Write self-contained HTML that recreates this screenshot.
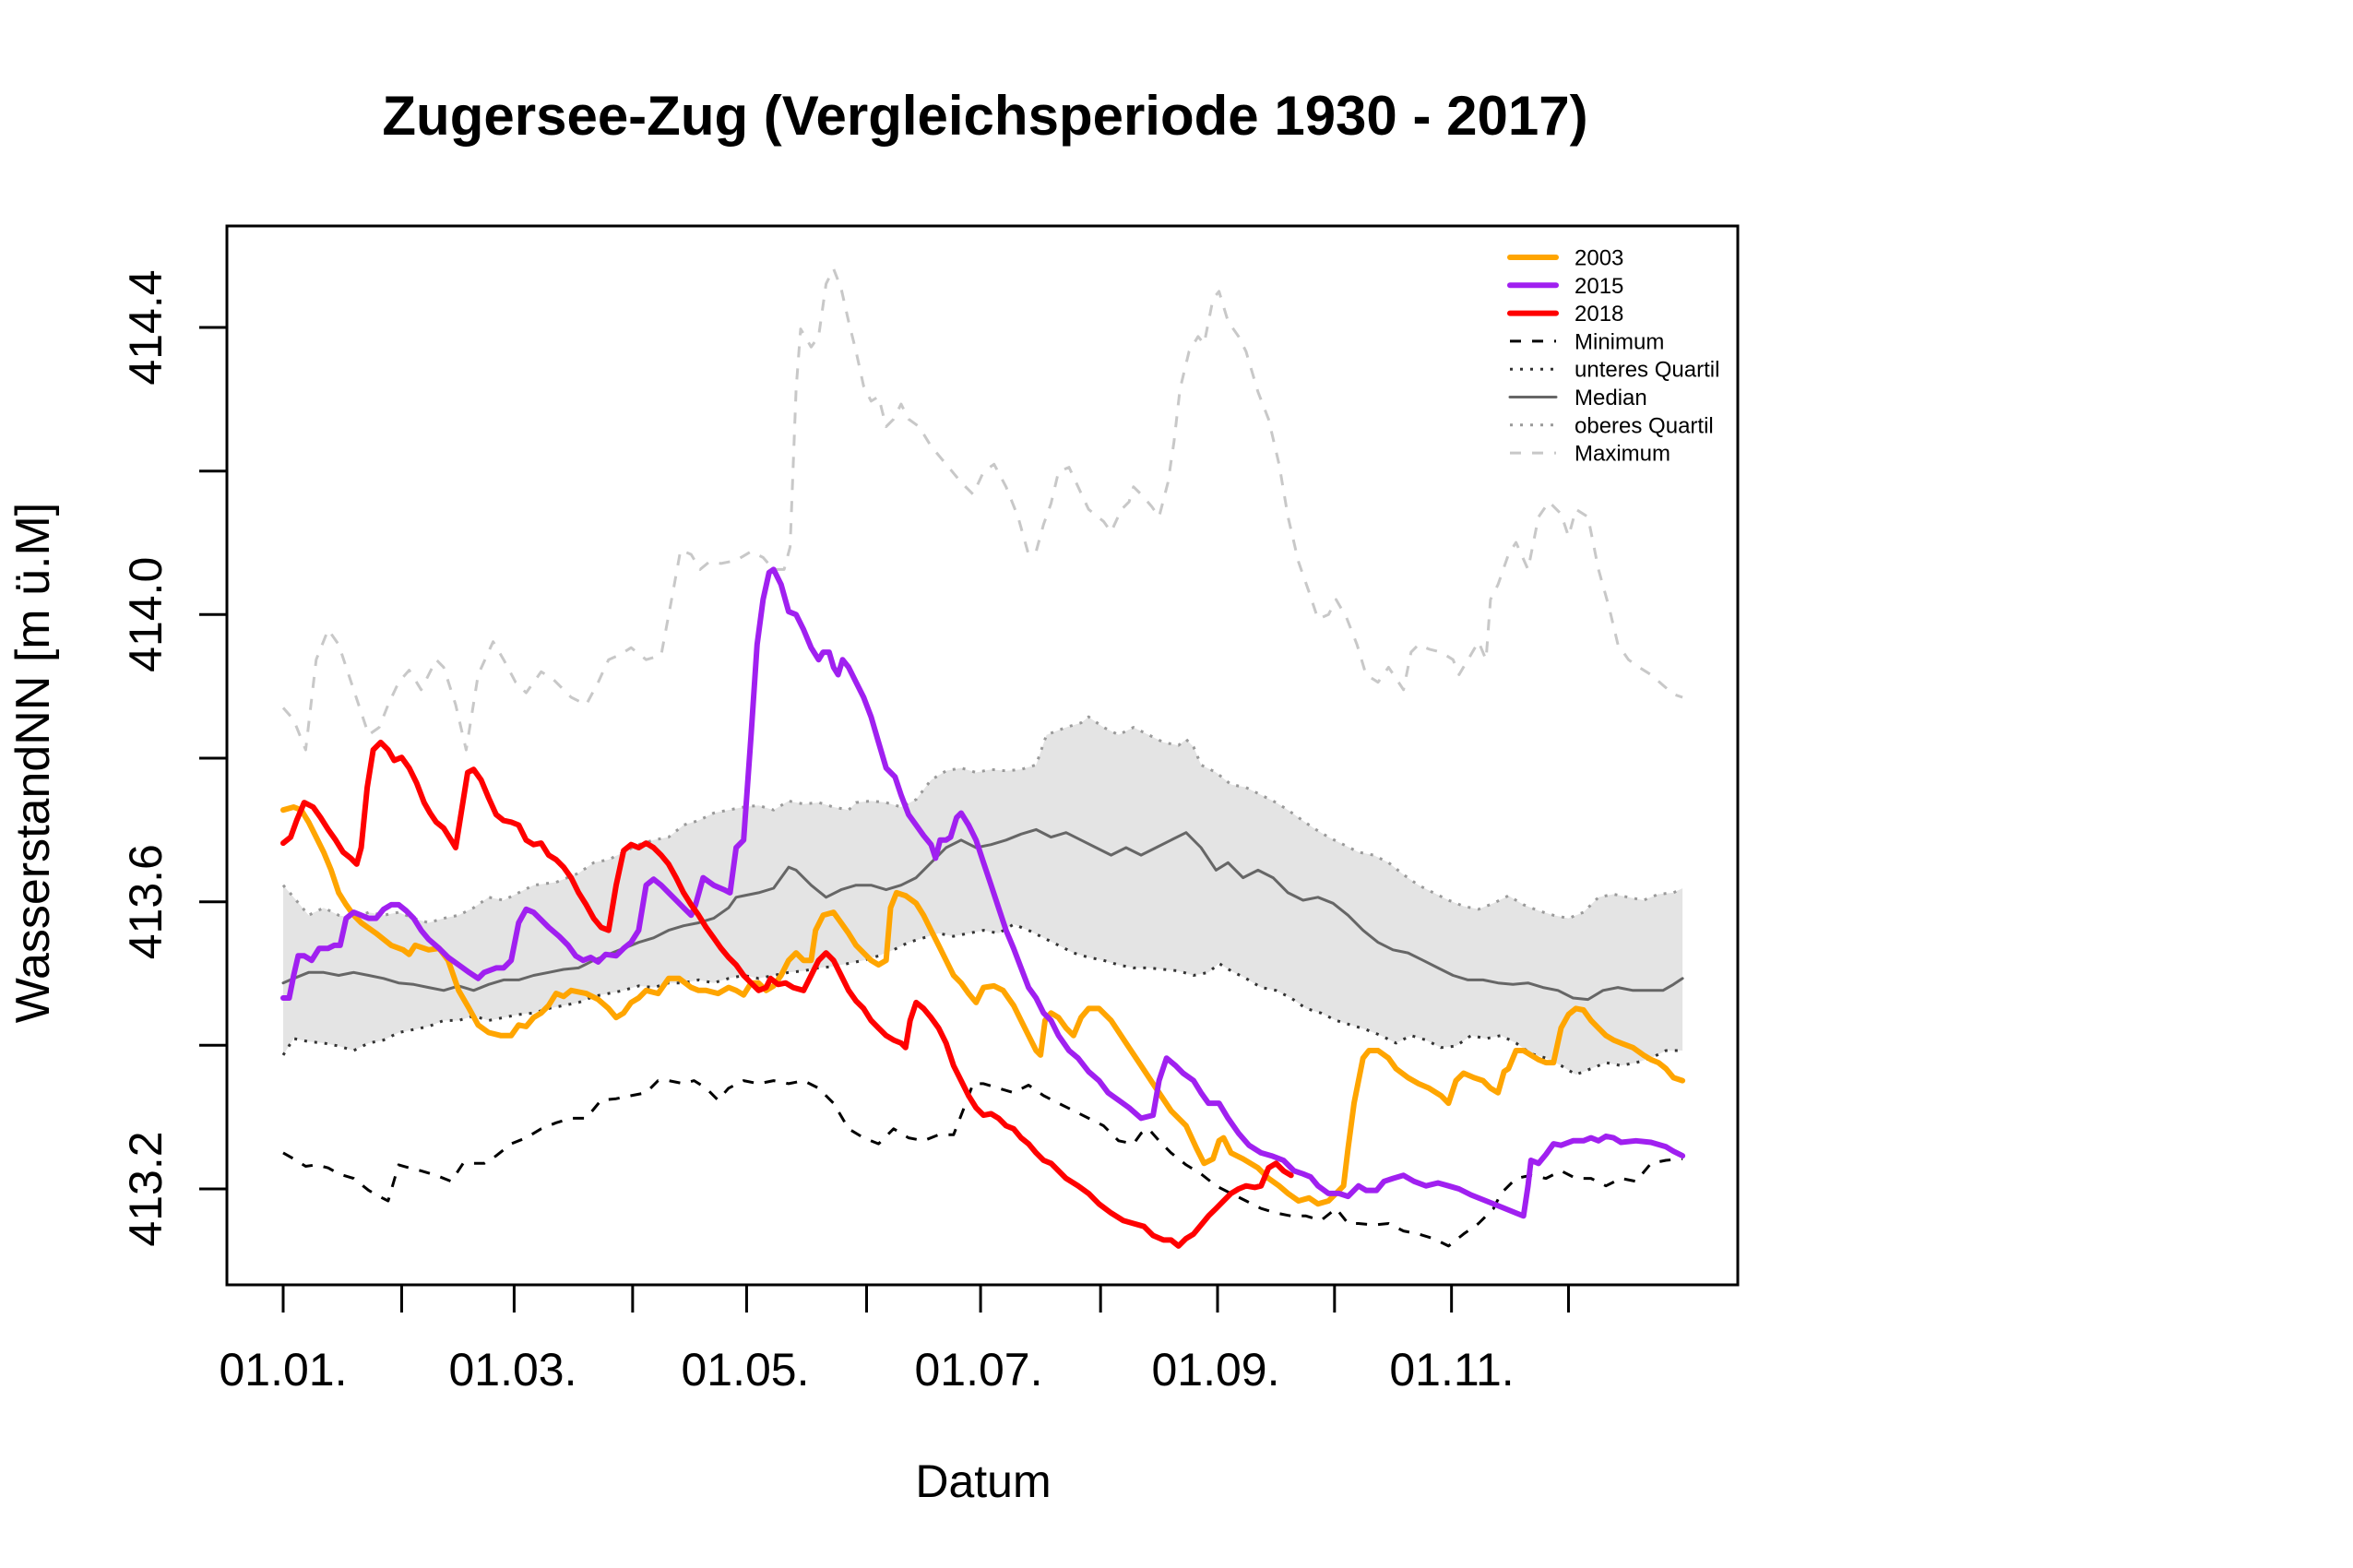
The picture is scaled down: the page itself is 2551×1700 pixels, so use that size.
<!DOCTYPE html>
<html><head><meta charset="utf-8"><style>html,body{margin:0;padding:0;background:#fff}svg{display:block}text{font-family:"Liberation Sans",Arial,sans-serif}</style></head>
<body>
<svg id="s" width="2551" height="1700" viewBox="0 0 2551 1700" xmlns="http://www.w3.org/2000/svg">
<rect width="2551" height="1700" fill="#fff"/>
<g id="plot"></g>
<rect x="246" y="245" width="1638" height="1148" fill="none" stroke="#000" stroke-width="3"/>
<text x="1068" y="146" font-size="60" font-weight="bold" text-anchor="middle">Zugersee-Zug (Vergleichsperiode 1930 - 2017)</text>
<g id="axes" stroke="#000" stroke-width="3"></g>
<g font-size="50" text-anchor="middle">
<text x="307" y="1502">01.01.</text>
<text x="556" y="1502">01.03.</text>
<text x="808" y="1502">01.05.</text>
<text x="1061" y="1502">01.07.</text>
<text x="1318" y="1502">01.09.</text>
<text x="1574" y="1502">01.11.</text>
<text x="1066" y="1623">Datum</text>
<text transform="translate(175,1289) rotate(-90)">413.2</text>
<text transform="translate(175,977.7) rotate(-90)">413.6</text>
<text transform="translate(175,666.3) rotate(-90)">414.0</text>
<text transform="translate(175,355) rotate(-90)">414.4</text>
<text transform="translate(53,827) rotate(-90)" font-size="52">WasserstandNN [m ü.M]</text>
</g>
<g id="legend" font-size="24"></g>
</svg>
<script>
function X(xo){return 307+(xo-188)*1.626;}
function Y(yo){return 355+(yo-219)*1.630;}
function pts(a){var r=[];for(var i=0;i<a.length;i+=2)r.push(X(a[i]).toFixed(1)+","+Y(a[i+1]).toFixed(1));return r;}
var NS="http://www.w3.org/2000/svg";
function el(p,t,at){var e=document.createElementNS(NS,t);for(var k in at)e.setAttribute(k,at[k]);p.appendChild(e);return e;}
var plot=document.getElementById("plot");
var MAX=[188,472,195,480,203,500,210,440,218,420,225,430,235,460,245,490,252,485,258,470,265,455,272,447,280,460,290,440,295,445,303,470,310,500,318,450,328,428,335,440,343,455,350,462,360,448,368,453,380,465,390,470,398,455,405,440,412,437,420,432,430,440,440,437,447,400,453,367,460,370,466,380,472,375,480,376,490,374,500,368,508,372,515,380,522,380,526,365,530,260,533,220,540,232,545,225,550,190,555,180,560,193,565,215,570,235,575,258,580,268,585,265,590,285,595,280,600,270,605,280,612,285,620,298,630,310,640,322,648,330,655,315,662,310,670,325,678,345,685,370,690,368,695,350,700,336,705,315,712,312,718,325,725,340,735,348,740,355,747,340,752,335,755,325,760,330,767,338,772,345,778,322,782,295,786,260,792,235,798,225,802,230,808,200,812,195,818,215,825,225,830,235,838,262,845,280,852,310,858,345,865,375,872,395,878,413,885,410,890,400,897,412,904,430,910,450,918,455,925,445,935,460,940,435,945,430,952,433,960,435,968,440,972,450,978,440,985,428,990,440,993,400,998,390,1005,370,1010,362,1018,380,1025,345,1032,335,1040,343,1045,358,1050,340,1058,345,1065,380,1072,405,1078,430,1085,440,1092,445,1100,450,1108,457,1115,463,1121,465];
var UQ=[188,590,195,598,205,610,215,605,225,610,235,612,245,608,255,610,265,608,275,612,285,615,295,612,305,610,315,605,325,598,335,600,345,595,355,590,370,588,385,582,395,575,405,573,415,568,425,563,435,560,445,558,455,550,465,547,475,542,485,540,495,538,505,537,515,540,525,534,535,536,545,535,555,538,565,540,570,535,580,534,590,535,600,538,610,533,620,520,630,514,640,512,650,515,660,513,670,514,680,513,690,510,697,490,710,485,720,482,725,478,735,485,745,490,755,485,765,490,775,495,785,497,790,493,795,498,800,510,810,515,820,523,830,525,840,530,850,535,858,540,865,545,875,552,885,558,895,563,905,568,915,570,925,575,935,583,945,590,955,595,965,600,975,604,985,606,995,602,1005,597,1015,603,1025,607,1035,610,1045,612,1055,608,1065,598,1075,596,1085,598,1095,600,1105,596,1115,595,1121,592];
var LQ=[188,703,195,692,205,694,215,695,225,697,235,700,245,695,255,693,265,688,275,686,285,684,295,680,305,680,315,677,325,680,335,678,345,676,355,675,365,672,375,670,385,668,395,664,405,662,415,660,425,657,435,658,445,655,455,655,465,653,475,655,485,652,495,650,505,652,515,650,525,648,535,647,545,645,555,644,565,642,575,640,585,637,595,633,605,628,615,625,625,622,635,624,645,622,655,620,665,622,675,616,685,620,695,625,705,630,715,635,725,638,735,640,745,643,755,645,765,645,775,646,785,647,795,650,805,648,812,642,820,647,830,652,840,658,850,660,860,665,870,672,880,675,890,680,900,683,910,686,920,690,930,695,940,690,950,693,960,698,970,697,980,690,990,692,1000,690,1010,695,1020,702,1030,705,1040,710,1050,716,1060,712,1070,708,1080,710,1090,708,1100,705,1110,700,1121,700];
var MED=[188,655,195,652,205,648,215,648,225,650,235,648,245,650,255,652,265,655,275,656,285,658,295,660,305,657,315,660,325,656,335,653,345,653,355,650,365,648,375,646,385,645,395,640,405,636,415,632,425,628,435,625,445,620,455,617,465,615,475,612,485,605,490,598,495,597,505,595,515,592,525,578,530,580,540,590,550,598,560,593,570,590,580,590,590,593,600,590,610,585,620,575,630,565,640,560,650,565,660,563,670,560,680,556,690,553,700,558,710,555,720,560,730,565,740,570,750,565,760,570,770,565,780,560,790,555,800,565,810,580,818,575,828,585,838,580,848,585,858,595,868,600,878,598,888,602,898,610,908,620,918,628,928,633,938,635,948,640,958,645,968,650,978,653,988,653,998,655,1008,656,1018,655,1028,658,1038,660,1048,665,1058,666,1068,660,1078,658,1088,660,1098,660,1108,660,1115,656,1121,652];
var MIN=[188,768,195,772,203,777,210,776,218,778,225,782,235,785,245,793,252,797,258,800,265,776,272,778,280,780,290,783,300,787,308,775,315,775,322,775,330,770,340,762,350,758,360,752,370,748,380,745,390,745,400,733,410,732,420,730,430,728,438,720,445,720,455,722,462,720,470,725,478,733,485,725,495,720,505,722,515,720,525,722,535,720,545,725,555,735,565,752,575,758,585,762,595,752,605,758,615,760,625,756,635,756,642,738,648,722,655,722,665,725,675,728,685,723,695,730,705,735,715,740,725,745,735,750,745,760,755,762,760,755,765,752,772,760,780,768,790,776,800,782,810,790,820,795,830,800,840,805,850,808,860,810,870,810,880,813,890,805,898,815,905,815,915,816,925,815,935,820,945,822,955,825,965,830,975,822,985,815,995,805,1000,795,1010,785,1020,783,1030,785,1040,780,1050,785,1060,785,1070,790,1080,785,1090,787,1100,775,1110,773,1121,772];
var O3=[188,540,195,538,200,540,205,548,210,558,215,568,220,580,225,595,230,603,235,610,240,615,250,622,260,630,268,633,272,636,276,630,285,633,292,632,298,640,305,660,312,672,318,683,325,688,333,690,340,690,345,683,350,684,355,678,360,675,365,670,370,662,375,664,380,660,390,662,398,666,405,672,410,678,415,675,420,668,425,665,430,660,438,662,445,652,452,652,460,658,465,660,470,660,478,662,485,658,490,660,495,663,500,655,505,655,510,660,515,657,520,650,525,640,530,635,535,640,540,640,543,620,548,610,555,608,560,615,565,622,570,630,575,635,580,640,585,643,590,640,593,605,597,595,603,597,610,602,615,610,620,620,625,630,630,640,635,650,640,655,645,662,650,668,655,658,662,657,668,660,675,670,680,680,685,690,690,700,693,703,696,680,700,675,705,678,710,685,715,690,720,678,725,672,732,672,740,680,750,695,760,710,770,725,780,740,790,750,797,765,802,775,808,772,812,760,815,758,820,768,828,772,838,778,845,785,852,790,858,795,865,800,872,798,878,802,885,800,890,795,895,790,898,765,902,735,908,705,912,700,918,700,925,705,930,712,938,718,945,722,952,725,960,730,965,735,970,720,975,715,982,718,988,720,993,725,998,728,1002,714,1005,712,1010,700,1015,700,1020,703,1025,706,1030,708,1035,708,1040,685,1045,676,1050,672,1055,673,1060,680,1065,685,1070,690,1075,693,1080,695,1088,698,1095,703,1100,706,1105,708,1110,712,1115,718,1121,720];
var P15=[188,665,192,665,195,650,198,637,202,637,207,640,212,632,218,632,222,630,226,630,230,612,235,608,240,610,245,612,250,612,255,606,260,603,265,603,270,607,275,612,280,620,285,626,292,632,298,638,305,643,312,648,318,652,322,648,330,645,335,645,340,640,345,615,350,606,355,608,360,613,365,618,372,624,378,630,383,637,388,640,393,638,398,641,403,636,410,637,415,632,420,628,425,620,430,590,435,586,440,590,445,595,450,600,455,605,460,610,463,603,468,585,475,590,482,593,486,595,490,565,495,560,500,490,504,430,508,400,512,382,515,380,520,390,525,408,530,410,535,420,540,432,545,440,548,435,552,435,555,445,558,450,561,440,565,445,570,455,575,465,580,478,585,495,590,512,596,518,600,530,605,543,610,550,615,557,620,563,623,572,626,560,630,560,633,558,637,545,640,542,645,550,650,560,655,575,660,590,665,605,670,620,675,632,680,645,685,658,690,665,695,675,700,680,705,690,712,700,718,705,725,714,732,720,738,728,745,733,752,738,760,745,768,743,772,720,777,705,783,710,788,715,795,720,800,728,805,735,812,735,818,745,825,755,832,763,840,768,847,770,855,773,862,780,868,782,873,784,878,790,885,795,892,795,898,797,905,790,910,793,917,793,922,787,928,785,935,783,942,787,950,790,958,788,965,790,972,792,980,796,990,800,1000,804,1010,808,1015,810,1018,790,1020,773,1025,775,1030,769,1035,762,1040,763,1048,760,1055,760,1060,758,1065,760,1070,757,1075,758,1080,761,1090,760,1100,761,1110,764,1115,767,1121,770];
var R18=[188,562,193,558,197,547,202,535,208,538,213,545,218,553,223,560,228,568,233,572,237,576,240,565,244,525,248,500,253,495,258,500,262,507,267,505,272,512,277,522,282,535,286,542,290,548,295,552,300,560,303,565,307,540,311,515,315,513,320,520,325,532,330,543,335,547,340,548,345,550,350,560,355,563,360,562,365,570,370,573,375,578,380,585,385,595,390,603,395,612,400,618,405,620,410,590,415,567,420,563,425,565,430,562,435,565,440,570,445,576,450,585,455,595,460,603,465,610,470,618,475,625,480,632,485,638,490,643,495,650,500,655,505,660,510,658,513,652,518,656,523,655,528,658,535,660,540,650,545,640,550,635,555,640,560,650,565,660,570,667,575,672,580,680,585,685,590,690,595,693,600,695,603,698,606,680,610,668,615,672,620,678,625,685,630,695,635,710,640,720,645,730,650,738,655,743,660,742,665,745,670,750,675,752,680,758,685,762,690,768,695,773,700,775,705,780,710,785,718,790,725,795,732,802,740,808,748,813,755,815,762,817,768,823,775,826,780,826,785,830,790,825,795,822,800,816,805,810,810,805,815,800,820,795,825,792,830,790,836,791,840,790,845,778,850,775,855,780,860,783];
var up=pts(UQ), lo=pts(LQ).reverse();
el(plot,"polygon",{points:up.concat(lo).join(" "),fill:"#e4e4e4",stroke:"none"});
function line(a,c,w,d){var at={points:pts(a).join(" "),fill:"none",stroke:c,"stroke-width":w,"stroke-linejoin":"round","stroke-linecap":"round"};if(d){at["stroke-dasharray"]=d;at["stroke-linecap"]="butt";}el(plot,"polyline",at);}
line(MAX,"#c8c8c8",3,"12 12");
line(UQ,"#999",3,"3 8");
line(LQ,"#333",3,"3 8");
line(MED,"#666",3,null);
line(MIN,"#000",3,"12 12");
line(O3,"#ffa500",6,null);
line(P15,"#a020f0",6,null);
line(R18,"#ff0000",6,null);
var ax=document.getElementById("axes");
var tx=[188,267,342,421,497,577,653,733,811,889,967,1045];
tx.forEach(function(t){var x=X(t);el(ax,"line",{x1:x,y1:1393,x2:x,y2:1423});});
[1289,1133.3,977.7,822,666.3,510.7,355].forEach(function(y){el(ax,"line",{x1:216,y1:y,x2:246,y2:y});});
var lg=document.getElementById("legend");
var items=[["2003","#ffa500",6,null],["2015","#a020f0",6,null],["2018","#ff0000",6,null],["Minimum","#000",3,"12 12"],["unteres Quartil","#333",3,"3 8"],["Median","#666",3,null],["oberes Quartil","#999",3,"3 8"],["Maximum","#c8c8c8",3,"12 12"]];
items.forEach(function(it,i){var y=279+30.3*i;var at={x1:1637,y1:y,x2:1687,y2:y,stroke:it[1],"stroke-width":it[2],"stroke-linecap":it[3]?"butt":"round"};if(it[3])at["stroke-dasharray"]=it[3];el(lg,"line",at);var t=el(lg,"text",{x:1707,y:y+8.5});t.textContent=it[0];});
</script>
</body></html>
